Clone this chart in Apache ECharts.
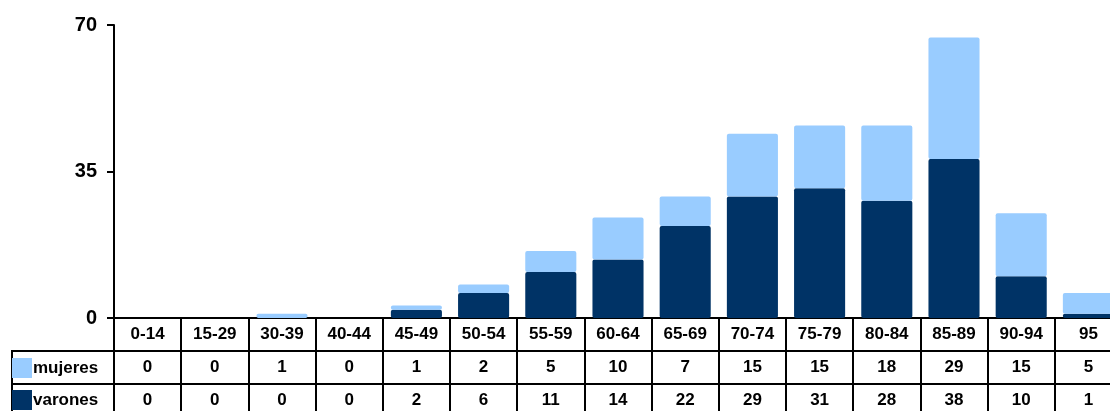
<!DOCTYPE html>
<html>
<head>
<meta charset="utf-8">
<script src="https://cdn.jsdelivr.net/npm/echarts@6/dist/echarts.min.js"></script>
<style>html,body{margin:0;padding:0;background:#fff}#c{width:1110px;height:411px}</style>
</head>
<body>
<div id="c"></div>
<script>
var categories = ['0-14','15-29','30-39','40-44','45-49','50-54','55-59','60-64','65-69','70-74','75-79','80-84','85-89','90-94','95'];
var mujeres = [0,0,1,0,1,2,5,10,7,15,15,18,29,15,5];
var varones = [0,0,0,0,2,6,11,14,22,29,31,28,38,10,1];
var yTicks = [0,35,70];

var FONT = 'Liberation Sans, Arial, sans-serif';
var GL = 114, GT = 25, GH = 293, GR = -12, ROW = 33;
var chart = echarts.init(document.getElementById('c'), null, {renderer:'canvas'});

function tableAxis(offset, fmt){
  return {
    type:'category', data:categories, position:'bottom', offset:offset,
    axisLine:{show:true, lineStyle:{color:'#000', width:2}},
    axisTick:{show:true, inside:false, length:ROW, interval:0, lineStyle:{color:'#000', width:2}},
    axisLabel:{show:true, interval:0, margin:8, color:'#000', fontFamily:FONT, fontWeight:'bold', fontSize:17, formatter:fmt},
    splitLine:{show:false}
  };
}
function legendFor(name, top){
  return {
    data:[name], orient:'vertical', left:12, top:top, padding:0,
    itemWidth:20, itemHeight:20, selectedMode:false, icon:'rect',
    textStyle:{color:'#000', fontFamily:FONT, fontWeight:'bold', fontSize:17, padding:[3,0,0,-4]}
  };
}

chart.setOption({
  animation:false,
  textStyle:{fontFamily:FONT},
  grid:{left:GL, top:GT, right:GR, height:GH, containLabel:false, outerBoundsMode:'none'},
  legend:[legendFor('mujeres', GT+GH+ROW+7), legendFor('varones', GT+GH+ROW*2+6)],
  xAxis:[
    tableAxis(0, function(v,i){return categories[i];}),
    tableAxis(ROW, function(v,i){return String(mujeres[i]);}),
    tableAxis(ROW*2, function(v,i){return String(varones[i]);})
  ],
  yAxis:{
    type:'value', min:yTicks[0], max:yTicks[yTicks.length-1], interval:35,
    axisLine:{show:true, lineStyle:{color:'#000', width:2}},
    axisTick:{show:true, length:7, lineStyle:{color:'#000', width:2}},
    axisLabel:{margin:17, color:'#000', fontFamily:FONT, fontWeight:'bold', fontSize:20},
    splitLine:{show:false}
  },
  series:[
    {name:'varones', type:'bar', stack:'t', data:varones, barCategoryGap:'24%', xAxisIndex:0,
     itemStyle:{color:'#003366', borderRadius:2}},
    {name:'mujeres', type:'bar', stack:'t', data:mujeres, barCategoryGap:'24%', xAxisIndex:0,
     itemStyle:{color:'#99CCFF', borderRadius:2}}
  ],
  graphic:[
    {type:'line', shape:{x1:12, y1:GT+GH+ROW, x2:GL, y2:GT+GH+ROW}, style:{stroke:'#000', lineWidth:2}},
    {type:'line', shape:{x1:12, y1:GT+GH+ROW*2, x2:GL, y2:GT+GH+ROW*2}, style:{stroke:'#000', lineWidth:2}},
    {type:'line', shape:{x1:12, y1:GT+GH+ROW-1, x2:12, y2:GT+GH+ROW*3}, style:{stroke:'#000', lineWidth:2}},
    {type:'line', shape:{x1:GL, y1:GT+GH, x2:GL, y2:GT+GH+ROW*3}, style:{stroke:'#000', lineWidth:2}}
  ]
});
</script>
</body>
</html>
